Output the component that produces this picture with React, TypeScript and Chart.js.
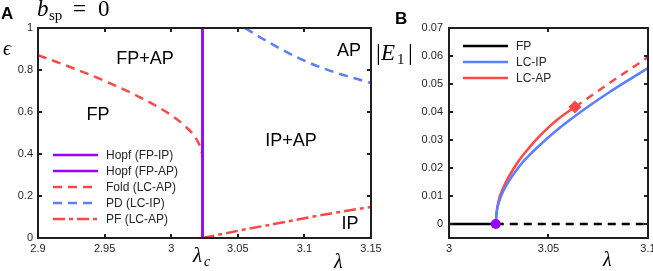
import React, { useEffect, useRef } from "react";
import { Chart, registerables } from "chart.js";

Chart.register(...registerables);

const SANS = '"Liberation Sans", Arial, Helvetica, sans-serif';
const SERIF = '"Liberation Serif", "DejaVu Serif", serif';
const AXIS = "#1f1f1f";
const TXT = "#262626";
const PURPLE = "#9a00ff";
const RED = "#ff4747";
const BLUE = "#5a7fff";

// ---------- Panel A data ----------
const xTicksA = [2.9, 2.95, 3, 3.05, 3.1, 3.15];
const yTicksA = [0, 0.2, 0.4, 0.6, 0.8, 1];

const hopfIpLambda = [3.0235, 3.0235];
const hopfIpEps = [0, 1];
const hopfApLambda = [3.0235, 3.0235];
const hopfApEps = [0, 1];

const foldLambda = [2.9, 2.925, 2.95, 2.975, 3.0, 3.01, 3.018, 3.022, 3.0235];
const foldEps = [0.871, 0.812, 0.748, 0.675, 0.585, 0.535, 0.48, 0.43, 0.395];

const pdLambda = [3.0554, 3.067, 3.08, 3.097, 3.119, 3.15];
const pdEps = [1.0, 0.955, 0.908, 0.853, 0.797, 0.738];

const pfLambda = [3.0235, 3.05, 3.08, 3.1, 3.12, 3.15];
const pfEps = [0, 0.034, 0.07, 0.094, 0.117, 0.148];

// ---------- Panel B data ----------
const xTicksB = [3, 3.05, 3.1];
const yTicksB = [0, 0.01, 0.02, 0.03, 0.04, 0.05, 0.06, 0.07];

const fpStableLambda = [3, 3.0235];
const fpStableE = [0, 0];
const fpUnstableLambda = [3.0235, 3.1];
const fpUnstableE = [0, 0];

const lcIpLambda = [3.0235, 3.024, 3.025, 3.027, 3.03, 3.035, 3.04, 3.05, 3.06, 3.07, 3.08, 3.09, 3.1];
const lcIpE = [0, 0.0045, 0.0075, 0.0113, 0.0152, 0.0203, 0.0243, 0.031, 0.0368, 0.042, 0.0468, 0.0513, 0.0557];

const lcApStableLambda = [3.0235, 3.024, 3.025, 3.027, 3.03, 3.035, 3.04, 3.045, 3.05, 3.055, 3.0633];
const lcApStableE = [0, 0.0045, 0.0085, 0.0125, 0.0168, 0.0225, 0.027, 0.031, 0.0345, 0.0376, 0.0418];
const lcApUnstableLambda = [3.0633, 3.08, 3.1];
const lcApUnstableE = [0.0418, 0.05, 0.0596];

const hopfPointLambda = [3.0235];
const hopfPointE = [0];
const foldPointLambda = [3.0633];
const foldPointE = [0.0418];

const pts = (xs: number[], ys: number[]) => xs.map((x, i) => ({ x, y: ys[i] }));

type Part = { t: string; font: string; x: number; dy?: number };
function drawParts(ctx: CanvasRenderingContext2D, y: number, parts: Part[]) {
  for (const p of parts) {
    ctx.font = p.font;
    ctx.fillText(p.t, p.x, y + (p.dy || 0));
  }
}

const framePlugin = {
  id: "frame",
  afterDatasetsDraw(chart: any) {
    const { ctx, chartArea: a, scales } = chart;
    const xs = scales.x;
    const ys = scales.y;
    ctx.save();
    ctx.setLineDash([]);
    ctx.strokeStyle = AXIS;
    ctx.lineWidth = 2;
    ctx.strokeRect(a.left, a.top, a.right - a.left, a.bottom - a.top);
    const tl = 4;
    ctx.beginPath();
    xs.ticks.forEach((t: any) => {
      const p = Math.round(xs.getPixelForValue(t.value));
      ctx.moveTo(p, a.bottom);
      ctx.lineTo(p, a.bottom - tl);
      ctx.moveTo(p, a.top);
      ctx.lineTo(p, a.top + tl);
    });
    ys.ticks.forEach((t: any) => {
      const p = Math.round(ys.getPixelForValue(t.value));
      ctx.moveTo(a.left, p);
      ctx.lineTo(a.left + tl, p);
      ctx.moveTo(a.right, p);
      ctx.lineTo(a.right - tl, p);
    });
    ctx.stroke();
    ctx.restore();
  },
};

function drawLegend(ctx: CanvasRenderingContext2D, chart: any, x0: number, y0: number, dy: number) {
  const items = chart.data.datasets.filter((d: any) => d.inLegend);
  ctx.save();
  items.forEach((d: any, i: number) => {
    const y = y0 + i * dy;
    ctx.strokeStyle = d.borderColor;
    ctx.lineWidth = d.borderWidth;
    ctx.setLineDash(d.borderDash || []);
    ctx.beginPath();
    ctx.moveTo(x0, y);
    ctx.lineTo(x0 + 45, y);
    ctx.stroke();
    ctx.setLineDash([]);
    ctx.fillStyle = TXT;
    ctx.font = `12px ${SANS}`;
    ctx.textBaseline = "middle";
    ctx.textAlign = "left";
    ctx.fillText(d.label, x0 + 53, y + 0.5);
  });
  ctx.restore();
}

const annotA = {
  id: "annotA",
  afterDraw(chart: any) {
    const ctx: CanvasRenderingContext2D = chart.ctx;
    ctx.save();
    ctx.fillStyle = "#000";
    ctx.textBaseline = "middle";
    ctx.textAlign = "center";
    ctx.font = `18px ${SANS}`;
    ctx.fillText("FP+AP", 145, 59);
    ctx.fillText("FP", 98, 115);
    ctx.fillText("AP", 349, 51);
    ctx.fillText("IP+AP", 291, 141);
    ctx.fillText("IP", 350, 224);

    ctx.textAlign = "left";
    ctx.textBaseline = "alphabetic";
    ctx.font = `bold 17px ${SANS}`;
    ctx.fillText("A", 1, 19);

    drawParts(ctx, 16, [
      { t: "b", font: `italic 23px ${SERIF}`, x: 37 },
      { t: "sp", font: `15px ${SERIF}`, x: 49, dy: 4 },
      { t: "=", font: `23px ${SERIF}`, x: 73 },
      { t: "0", font: `23px ${SERIF}`, x: 98 },
    ]);
    ctx.font = `italic 20px ${SERIF}`;
    ctx.fillText("\u03F5", 3, 55);
    ctx.fillText("\u03BB", 334, 268);
    drawParts(ctx, 262, [
      { t: "\u03BB", font: `italic 21px ${SERIF}`, x: 193 },
      { t: "c", font: `italic 14px ${SERIF}`, x: 204, dy: 4 },
    ]);
    ctx.restore();
    drawLegend(ctx, chart, 53, 155, 16);
  },
};

const OXB = 360;
const annotB = {
  id: "annotB",
  afterDraw(chart: any) {
    const ctx: CanvasRenderingContext2D = chart.ctx;
    const ox = OXB;
    ctx.save();
    ctx.fillStyle = "#000";
    ctx.textAlign = "left";
    ctx.textBaseline = "alphabetic";
    ctx.font = `bold 17px ${SANS}`;
    ctx.fillText("B", 395 - ox, 24);
    drawParts(ctx, 60, [
      { t: "|", font: `24px ${SERIF}`, x: 376 - ox },
      { t: "E", font: `italic 23px ${SERIF}`, x: 381 - ox },
      { t: "1", font: `15px ${SERIF}`, x: 397 - ox, dy: 4 },
      { t: "|", font: `24px ${SERIF}`, x: 408 - ox },
    ]);
    ctx.font = `italic 20px ${SERIF}`;
    ctx.fillText("\u03BB", 603 - ox, 266);
    ctx.restore();
    drawLegend(ctx, chart, 463 - ox, 46, 16);
  },
};

function line(label: string, data: any[], color: string, dash: number[], inLegend: boolean, width = 2.5) {
  return {
    label,
    data,
    showLine: true,
    borderColor: color,
    backgroundColor: color,
    borderWidth: width,
    borderDash: dash,
    pointRadius: 0,
    pointHoverRadius: 0,
    cubicInterpolationMode: "monotone",
    fill: false,
    inLegend,
  };
}

function scaleOpts(min: number, max: number, ticks: number[], pad: number, fit: (s: any) => void) {
  return {
    type: "linear",
    min,
    max,
    afterBuildTicks: (s: any) => {
      s.ticks = ticks.map((v) => ({ value: v }));
    },
    afterFit: fit,
    grid: { display: false, drawTicks: false },
    border: { display: false },
    ticks: {
      autoSkip: false,
      maxRotation: 0,
      padding: pad,
      color: TXT,
      font: { family: SANS, size: 11 },
      callback: (v: any) => String(v),
    },
  };
}

export default function App() {
  const refA = useRef<HTMLCanvasElement>(null);
  const refB = useRef<HTMLCanvasElement>(null);

  useEffect(() => {
    const chartA = new Chart(refA.current as HTMLCanvasElement, {
      type: "scatter",
      data: {
        datasets: [
          line("Hopf (FP-IP)", pts(hopfIpLambda, hopfIpEps), PURPLE, [], true),
          line("Hopf (FP-AP)", pts(hopfApLambda, hopfApEps), PURPLE, [], true),
          line("Fold (LC-AP)", pts(foldLambda, foldEps), RED, [9, 6], true),
          line("PD (LC-IP)", pts(pdLambda, pdEps), BLUE, [9, 6], true),
          line("PF (LC-AP)", pts(pfLambda, pfEps), RED, [12, 4, 4, 4], true),
        ] as any,
      },
      options: {
        animation: false,
        responsive: false,
        devicePixelRatio: 1,
        events: [],
        layout: { padding: { left: 0, right: 24, top: 28, bottom: 0 } },
        plugins: { legend: { display: false }, tooltip: { enabled: false } },
        scales: {
          x: scaleOpts(2.9, 3.15, xTicksA, 4, (s: any) => {
            s.height = 33;
          }),
          y: scaleOpts(0, 1, yTicksA, 5, (s: any) => {
            s.width = 38;
          }),
        } as any,
      },
      plugins: [framePlugin, annotA],
    });

    const chartB = new Chart(refB.current as HTMLCanvasElement, {
      type: "scatter",
      data: {
        datasets: [
          {
            label: "Hopf point",
            data: pts(hopfPointLambda, hopfPointE),
            showLine: false,
            pointRadius: 5,
            pointBackgroundColor: PURPLE,
            pointBorderWidth: 0,
            inLegend: false,
          },
          {
            label: "Fold point",
            data: pts(foldPointLambda, foldPointE),
            showLine: false,
            pointStyle: "rectRot",
            pointRadius: 6.5,
            pointBackgroundColor: RED,
            pointBorderWidth: 0,
            inLegend: false,
          },
          line("FP", pts(fpStableLambda, fpStableE), "#000000", [], true),
          line("LC-IP", pts(lcIpLambda, lcIpE), BLUE, [], true),
          line("LC-AP", pts(lcApStableLambda, lcApStableE), RED, [], true),
          line("LC-AP unstable", pts(lcApUnstableLambda, lcApUnstableE), RED, [8, 6], false),
          line("FP unstable", pts(fpUnstableLambda, fpUnstableE), "#000000", [8, 6], false),
        ] as any,
      },
      options: {
        animation: false,
        responsive: false,
        devicePixelRatio: 1,
        events: [],
        layout: { padding: { left: 0, right: 310 - (648 - OXB), top: 28, bottom: 0 } },
        plugins: { legend: { display: false }, tooltip: { enabled: false } },
        scales: {
          x: scaleOpts(3, 3.1, xTicksB, 4, (s: any) => {
            s.height = 33;
          }),
          y: scaleOpts(-0.005, 0.07, yTicksB, 6, (s: any) => {
            s.width = 449 - OXB;
          }),
        } as any,
      },
      plugins: [framePlugin, annotB],
    });

    return () => {
      chartA.destroy();
      chartB.destroy();
    };
  }, []);

  return (
    <div
      style={{
        position: "fixed",
        left: 0,
        top: 0,
        width: 653,
        height: 271,
        overflow: "hidden",
        background: "#fff",
      }}
    >
      <canvas
        ref={refA}
        width={395}
        height={271}
        style={{ position: "absolute", left: 0, top: 0, width: 395, height: 271 }}
      />
      <canvas
        ref={refB}
        width={310}
        height={271}
        style={{ position: "absolute", left: OXB, top: 0, width: 310, height: 271 }}
      />
    </div>
  );
}
